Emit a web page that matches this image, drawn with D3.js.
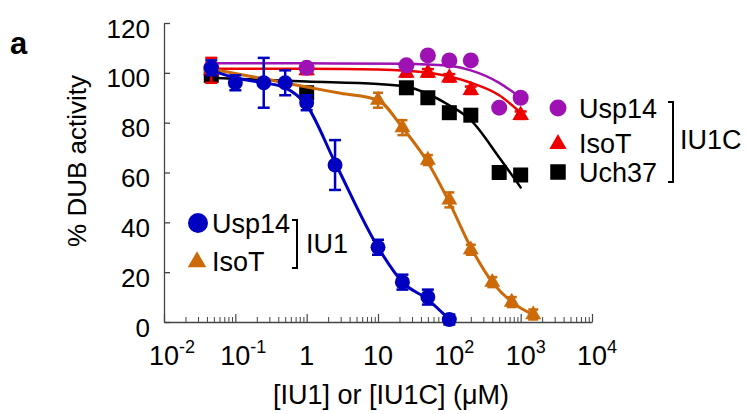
<!DOCTYPE html>
<html>
<head>
<meta charset="utf-8">
<script src="https://cdn.jsdelivr.net/npm/d3@7"></script>
<style>
  html, body { margin: 0; padding: 0; background: #fff; }
  svg { display: block; font-family: "Liberation Sans", Arial, sans-serif; }
</style>
</head>
<body>
<svg id="chart" width="746" height="414"></svg>
<script>
// ---------- data ----------
const yTicks = [0, 20, 40, 60, 80, 100, 120];
const xMajorTicks = [1e-2, 1e-1, 1, 10, 100, 1000, 10000];
const xTickBase = ["10", "10", "1", "10", "10", "10", "10"];
const xTickExp  = ["-2", "-1", "", "", "2", "3", "4"];

// IU1 – Usp14 (blue circles)
const usp14IU1Conc = [0.046, 0.1, 0.25, 0.5, 1, 2.5, 10, 22, 50, 100];
const usp14IU1Val  = [102, 96, 96, 96, 88, 63, 30, 16, 10, 1];
const usp14IU1Err  = [3, 3, 10, 5, 3, 10, 3, 3, 3, 2];
const usp14IU1FitConc = [0.046, 0.1, 0.25, 0.5, 1, 2.5, 10, 22, 50, 100];
const usp14IU1FitVal  = [101, 98, 96, 94, 87, 64, 30, 16, 9, 1];

// IU1 – IsoT (orange triangles)
const isoTIU1Conc = [0.046, 10, 22, 50, 100, 200, 400, 750, 1500];
const isoTIU1Val  = [102, 89, 78, 65, 49, 29, 16, 8, 3];
const isoTIU1Err  = [2, 3, 3, 2, 3, 2, 2, 2, 2];
const isoTIU1FitConc = [0.046, 0.1, 0.3, 1, 3, 10, 22, 50, 100, 200, 400, 750, 1500];
const isoTIU1FitVal  = [101.5, 99.7, 97.2, 94.3, 91.8, 89, 78, 64, 48, 30, 16, 8, 3];

// IU1C – Usp14 (purple circles)
const usp14IU1CConc = [0.046, 1, 25, 50, 100, 200, 500, 1000];
const usp14IU1CVal  = [102, 102, 103, 107, 105, 105, 86, 90];
const usp14IU1CFitConc = [0.046, 1, 25, 50, 100, 200, 500, 1000];
const usp14IU1CFitVal  = [103.8, 103.8, 103.6, 103.3, 102.8, 101, 96, 90];

// IU1C – IsoT (red triangles)
const isoTIU1CConc = [0.046, 1, 25, 50, 100, 200, 1000];
const isoTIU1CVal  = [101, 101, 100, 100, 98, 93, 83];
const isoTIU1CErr  = [5, 1.5, 1.5, 1.5, 1.5, 1.5, 1.5];
const isoTIU1CFitConc = [0.046, 1, 10, 25, 50, 100, 200, 500, 1000];
const isoTIU1CFitVal  = [101.6, 101.6, 101.3, 100.8, 100, 98.5, 96, 91, 84];

// IU1C – Uch37 (black squares)
const uch37IU1CConc = [0.046, 1, 25, 50, 100, 200, 500, 1000];
const uch37IU1CVal  = [99, 92, 94, 90, 84, 83, 60, 59];
const uch37IU1CFitConc = [0.046, 1, 10, 25, 50, 100, 200, 500, 1000];
const uch37IU1CFitVal  = [98, 96.5, 95.5, 94.5, 91.5, 87, 81, 66, 54];

// ---------- chart ----------
const svg = d3.select("#chart");
const x = d3.scaleLog().domain([1e-2, 1e4]).range([164, 592]);
const y = d3.scaleLinear().domain([0, 120]).range([322, 23]);

const COL = {
  blue: "#0000C0", orange: "#CC6A0A", purple: "#9E12B4", red: "#EE0000", black: "#000000"
};
const FS = 27;

// y axis
const yAxis = d3.axisLeft(y).tickValues(yTicks).tickSizeInner(-6).tickSizeOuter(0).tickPadding(14);
const gy = svg.append("g").attr("transform", "translate(164,0)").call(yAxis);
gy.select(".domain").attr("stroke", "#444").attr("stroke-width", 1.3);
gy.selectAll(".tick line").attr("stroke", "#444").attr("stroke-width", 1.3);
gy.selectAll(".tick text").attr("font-size", 26).attr("fill", "#000")
  .attr("font-family", "'Liberation Sans', Arial, sans-serif").attr("dy", 14);

// x axis – minor ticks
const minorTicks = [];
for (let e = -2; e < 4; e++) for (let m = 2; m <= 9; m++) minorTicks.push(m * Math.pow(10, e));
const xMinor = d3.axisBottom(x).tickValues(minorTicks).tickSizeInner(-5).tickSizeOuter(0).tickFormat("");
const gxm = svg.append("g").attr("transform", "translate(0,322)").call(xMinor);
gxm.select(".domain").attr("stroke", "#444").attr("stroke-width", 1.3);
gxm.selectAll(".tick line").attr("stroke", "#444").attr("stroke-width", 1);

const xMajor = d3.axisBottom(x).tickValues(xMajorTicks).tickSizeInner(-8).tickSizeOuter(0).tickFormat("");
const gx = svg.append("g").attr("transform", "translate(0,322)").call(xMajor);
gx.select(".domain").remove();
gx.selectAll(".tick line").attr("stroke", "#444").attr("stroke-width", 1.2);

// x tick labels with superscripts
xMajorTicks.forEach((v, i) => {
  const t = svg.append("text")
    .attr("x", x(v)).attr("y", 365)
    .attr("font-size", FS);
  const base = t.append("tspan").text(xTickBase[i]);
  if (xTickExp[i]) {
    t.append("tspan").attr("font-size", 18).attr("dy", -12).text(xTickExp[i]);
  }
  // centre the base number on the tick
  const bw = base.node().getComputedTextLength();
  t.attr("x", x(v) - bw / 2);
});

// axis titles
svg.append("text")
  .attr("transform", "translate(86,161) rotate(-90)")
  .attr("text-anchor", "middle").attr("font-size", 26)
  .text("% DUB activity");
svg.append("text")
  .attr("x", 391).attr("y", 404).attr("text-anchor", "middle").attr("font-size", FS)
  .text("[IU1] or [IU1C] (\u03BCM)");
svg.append("text")
  .attr("x", 10).attr("y", 54).attr("font-size", 31).attr("font-weight", "bold")
  .text("a");

// helpers
const line = d3.line().x(d => x(d[0])).y(d => y(d[1])).curve(d3.curveMonotoneX);
function fit(conc, val, color, w) {
  svg.append("path").datum(conc.map((c, i) => [c, val[i]]))
    .attr("d", line).attr("fill", "none").attr("stroke", color).attr("stroke-width", w)
    .attr("stroke-linejoin", "round").attr("stroke-linecap", "round");
}
function errs(conc, val, err, color, cap) {
  const g = svg.append("g").attr("stroke", color).attr("stroke-width", 2.5);
  conc.forEach((c, i) => {
    const e = err[i]; if (!e) return;
    const cx = x(c);
    g.append("line").attr("x1", cx).attr("x2", cx).attr("y1", y(val[i] - e)).attr("y2", y(val[i] + e));
    g.append("line").attr("x1", cx - cap).attr("x2", cx + cap).attr("y1", y(val[i] + e)).attr("y2", y(val[i] + e));
    g.append("line").attr("x1", cx - cap).attr("x2", cx + cap).attr("y1", y(val[i] - e)).attr("y2", y(val[i] - e));
  });
}
function markers(conc, val, shape, size, color) {
  svg.append("g").selectAll("path").data(conc.map((c, i) => [c, val[i]])).join("path")
    .attr("transform", d => `translate(${x(d[0])},${y(d[1])})`)
    .attr("d", d3.symbol().type(shape).size(size))
    .attr("fill", color);
}

// IU1C series
fit(uch37IU1CFitConc, uch37IU1CFitVal, COL.black, 2.5);
markers(uch37IU1CConc, uch37IU1CVal, d3.symbolSquare, 225, COL.black);

fit(isoTIU1CFitConc, isoTIU1CFitVal, COL.red, 2.5);
errs(isoTIU1CConc, isoTIU1CVal, isoTIU1CErr, COL.red, 6);
markers(isoTIU1CConc, isoTIU1CVal, d3.symbolTriangle, 120, COL.red);

fit(usp14IU1CFitConc, usp14IU1CFitVal, COL.purple, 2.5);
markers(usp14IU1CConc, usp14IU1CVal, d3.symbolCircle, Math.PI * 64, COL.purple);

// IU1 series
fit(isoTIU1FitConc, isoTIU1FitVal, COL.orange, 3);
errs(isoTIU1Conc, isoTIU1Val, isoTIU1Err, COL.orange, 5);
markers(isoTIU1Conc, isoTIU1Val, d3.symbolTriangle, 110, COL.orange);

fit(usp14IU1FitConc, usp14IU1FitVal, COL.blue, 3);
errs(usp14IU1Conc, usp14IU1Val, usp14IU1Err, COL.blue, 6);
markers(usp14IU1Conc, usp14IU1Val, d3.symbolCircle, Math.PI * 56, COL.blue);

// legends
function legendItem(cx, cy, shape, size, color, label, tx, ty) {
  svg.append("path").attr("transform", `translate(${cx},${cy})`)
    .attr("d", d3.symbol().type(shape).size(size)).attr("fill", color);
  svg.append("text").attr("x", tx).attr("y", ty).attr("font-size", FS).text(label);
}
function bracket(xb, y1, y2, label, lx, ly) {
  svg.append("path").attr("d", `M${xb - 5},${y1}H${xb}V${y2}H${xb - 5}`)
    .attr("fill", "none").attr("stroke", "#000").attr("stroke-width", 2);
  svg.append("text").attr("x", lx).attr("y", ly).attr("font-size", FS).text(label);
}
// IU1 legend
legendItem(198, 223, d3.symbolCircle, Math.PI * 100, COL.blue, "Usp14", 212, 233);
legendItem(197, 262, d3.symbolTriangle, 150, COL.orange, "IsoT", 212, 271);
bracket(297, 220, 268, "IU1", 306, 253);
// IU1C legend
legendItem(558, 108, d3.symbolCircle, Math.PI * 72, COL.purple, "Usp14", 579, 118);
legendItem(558, 144, d3.symbolTriangle, 130, COL.red, "IsoT", 579, 153);
legendItem(558, 172, d3.symbolSquare, 240, COL.black, "Uch37", 579, 182);
bracket(673, 102, 182, "IU1C", 680, 149);
</script>
</body>
</html>
